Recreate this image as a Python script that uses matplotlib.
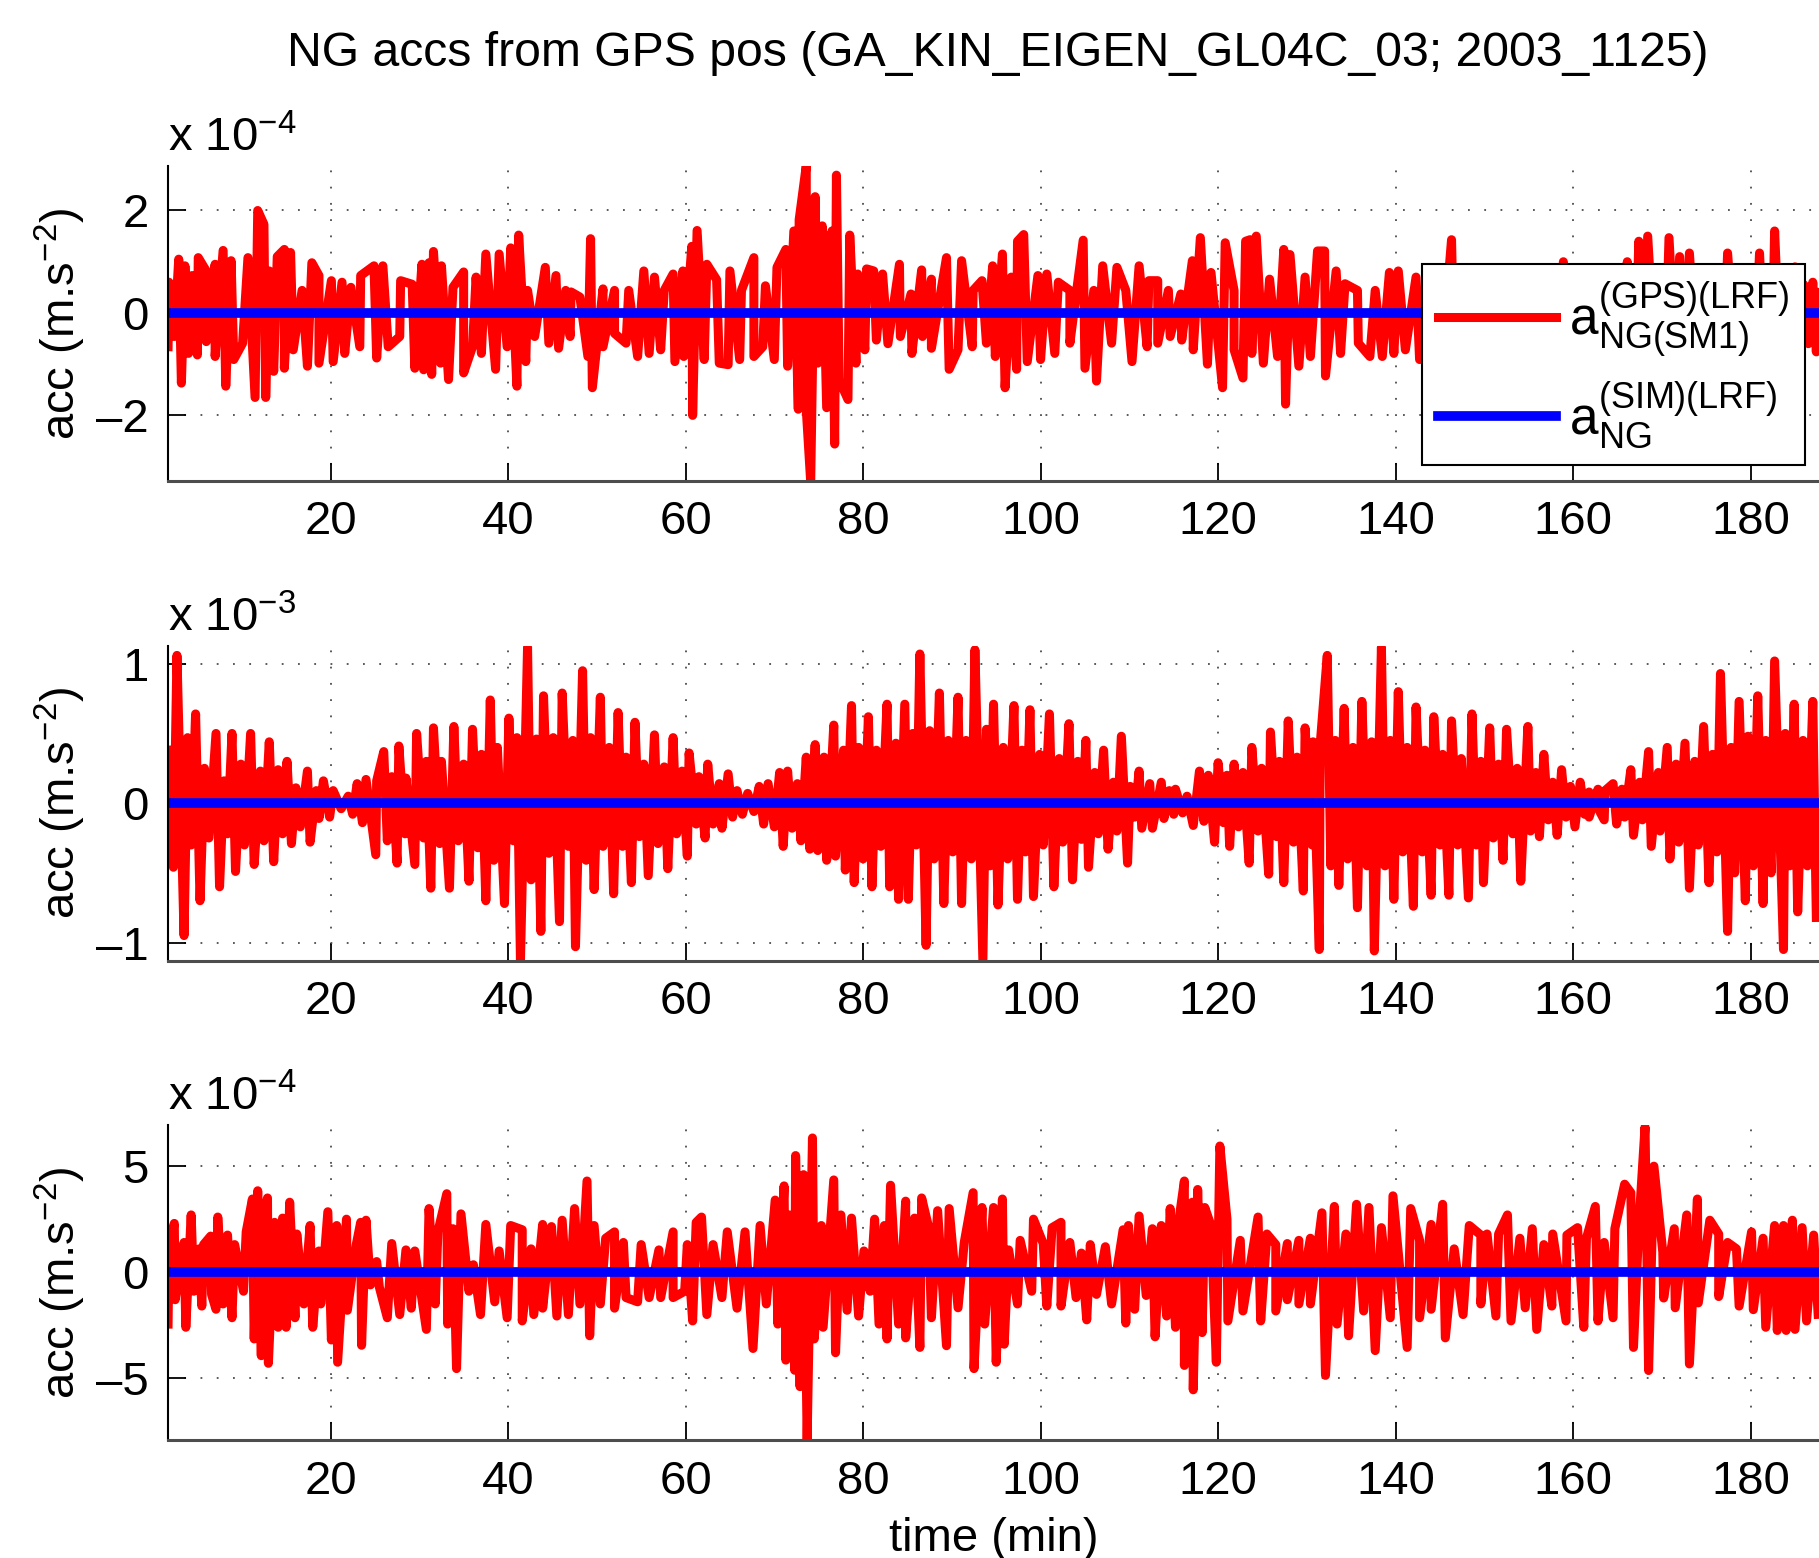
import numpy as np
import matplotlib.pyplot as plt

plt.rcParams["font.family"] = ["Liberation Sans", "DejaVu Sans"]
plt.rcParams["mathtext.fontset"] = "custom"
plt.rcParams["mathtext.rm"] = "Liberation Sans"
plt.rcParams["mathtext.it"] = "Liberation Sans:italic"
plt.rcParams["mathtext.bf"] = "Liberation Sans:bold"

TITLE = "NG accs from GPS pos (GA_KIN_EIGEN_GL04C_03; 2003_1125)"
XLIM = (1.7, 187.7)
XTICKS = [20, 40, 60, 80, 100, 120, 140, 160, 180]

# panel 1 (x 1e-4 m/s^2): upward peaks and downward peaks
p1_up_t = [1.8, 2.9, 3.6, 4.4, 5.1, 6.0, 7.0, 7.9, 8.8, 10.7, 11.8, 12.5, 13.1, 14.0, 14.8, 15.5, 16.8, 17.9, 18.7, 20.1,
           21.3, 22.3, 23.4, 24.9, 25.9, 27.9, 29.2, 30.3, 31.1, 31.6, 32.5, 33.8, 35.0, 36.4, 37.5, 39.0, 40.3, 41.2, 42.2,
           44.2, 45.4, 46.5, 47.1, 48.1, 49.3, 50.7, 52.0, 53.6, 55.3, 56.5, 57.6, 58.6, 59.7, 60.7, 61.3, 62.4, 63.5, 65.0,
           66.3, 67.7, 69.0, 70.3, 71.3, 72.2, 72.8, 73.6, 74.6, 75.4, 76.5, 77.0, 78.5, 79.4, 80.4, 81.2, 82.2,
           84.1, 85.4, 86.6, 87.7, 89.4, 91.1, 92.4, 93.4, 94.6, 95.7, 96.7, 97.4, 98.1, 99.7, 100.7, 102.0, 103.3, 104.8,
           106.0, 107.0, 108.6, 109.6, 111.1, 112.2, 113.2, 114.4, 115.8, 117.1, 118.0, 119.2, 120.8, 121.8, 123.1, 123.6,
           124.3, 125.8, 127.4, 128.1, 129.8, 131.2, 132.0, 133.3, 134.3, 135.7, 137.7, 139.3, 140.3, 142.3,
           143.5, 144.6, 146.3, 147.3, 148.5, 149.8, 151.0, 152.3, 153.6, 155.0, 156.3, 157.6, 158.9, 160.1, 161.3, 162.6,
           163.8, 165.0, 166.1, 167.4, 168.4, 169.6, 170.8, 172.0, 173.1, 174.3, 175.5, 176.4, 177.4, 178.6, 179.8, 181.0,
           182.0, 182.7, 183.8, 185.0, 186.0, 187.0, 187.7]
p1_up = [0.6, 1.05, 0.92, 0.73, 1.08, 0.82, 0.95, 1.22, 1.02, 1.08, 2.0, 1.73, 0.82, 1.1, 1.24, 1.18, 0.44, 0.98, 0.73, 0.63,
         0.6, 0.5, 0.73, 0.92, 0.92, 0.63, 0.56, 0.95, 0.98, 1.2, 0.92, 0.5, 0.8, 0.7, 1.15, 1.15, 1.27, 1.52, 0.44,
         0.89, 0.73, 0.44, 0.41, 0.31, 1.45, 0.47, 0.44, 0.44, 0.82, 0.7, 0.44, 0.76, 0.82, 1.3, 1.61, 0.95, 0.65, 0.82,
         0.44, 1.08, 0.53, 0.89, 1.24, 1.6, 1.82, 2.87, 2.27, 1.7, 1.6, 2.69, 1.52, 0.76, 0.86, 0.82, 0.76,
         0.95, 0.37, 0.84, 0.66, 1.08, 1.02, 0.44, 0.63, 0.92, 1.15, 0.7, 1.4, 1.53, 0.73, 0.76, 0.6, 0.44, 1.42,
         0.44, 0.92, 0.89, 0.44, 0.92, 0.63, 0.63, 0.44, 0.37, 1.02, 1.47, 0.79, 1.37, 0.44, 1.4, 1.43,
         1.5, 0.66, 1.24, 1.14, 0.7, 1.21, 1.21, 0.82, 0.57, 0.44, 0.44, 0.79, 0.82, 0.7,
         0.6, 0.8, 1.43, 0.6, 0.75, 0.5, 0.7, 0.55, 0.8, 0.6, 0.7, 0.5, 1.0, 0.6, 0.75, 0.55,
         0.8, 0.6, 1.0, 1.4, 1.5, 0.8, 1.47, 1.1, 1.17, 0.7, 0.85, 0.6, 1.17, 0.6, 0.8, 1.17,
         0.7, 1.6, 0.7, 0.9, 0.55, 0.6, 0.4]
p1_dn_t = [1.7, 2.4, 3.2, 4.0, 5.0, 6.0, 7.0, 8.2, 9.1, 10.1, 11.5, 12.7, 13.6, 14.8, 15.8, 17.4, 18.7, 20.3, 21.6, 23.3,
           25.2, 26.5, 27.8, 29.5, 30.5, 31.4, 32.4, 33.3, 35.0, 36.0, 37.0, 38.6, 39.9, 41.0, 42.0, 43.0, 44.6, 45.7,
           47.0, 49.0, 49.5, 50.7, 52.0, 53.3, 54.6, 55.9, 57.2, 58.8, 59.8, 60.8, 62.1, 63.8, 64.8, 66.1, 67.7, 68.7,
           70.0, 71.5, 72.7, 73.6, 74.1, 74.9, 75.9, 76.8, 77.3, 78.3, 79.2, 80.2, 81.5,
           82.8, 84.2, 85.5, 86.7, 87.7, 89.7, 90.7, 92.3, 93.9, 94.9, 96.0, 97.3, 98.5, 100.0, 101.6, 103.3, 105.0, 106.3,
           108.0, 110.3, 112.0, 113.2, 114.6, 115.9, 117.2, 118.8, 120.5, 121.8, 122.8, 123.8, 125.1, 126.7, 127.6, 129.1,
           130.4, 132.1, 133.8, 135.8, 137.1, 138.5, 139.8, 141.1, 142.7,
           144.0, 145.3, 146.6, 147.9, 149.2, 150.5, 151.8, 153.1, 154.4, 155.7, 157.0, 158.3, 159.6, 160.9, 162.2, 163.5,
           164.8, 166.0, 167.0, 168.0, 169.2, 170.4, 171.5, 172.6, 173.8, 175.0, 176.0, 177.0, 178.2, 179.4, 180.5, 181.5,
           182.4, 183.3, 184.4, 185.5, 186.5, 187.4]
p1_dn = [-0.66, -0.46, -1.37, -0.79, -0.82, -0.56, -0.85, -1.43, -0.91, -0.59, -1.65, -1.65, -1.14, -1.08, -0.72, -1.04,
         -0.98, -0.95, -0.79, -0.66, -0.88, -0.66, -0.46, -1.08, -1.11, -1.2, -0.98, -1.3, -1.17, -0.66, -0.79, -1.1,
         -0.66, -1.43, -0.95, -0.46, -0.59, -0.69, -0.46, -0.85, -1.46, -0.66, -0.4, -0.59, -0.85, -0.79, -0.72, -0.95,
         -0.85, -2.0, -0.91, -0.98, -1.01, -0.91, -0.85, -0.66, -0.91, -1.04, -1.88, -1.88, -3.3, -0.98, -1.85, -2.56,
         -1.3, -1.69, -0.98, -0.72, -0.53,
         -0.6, -0.46, -0.79, -0.46, -0.69, -1.1, -0.72, -0.66, -0.59, -0.85, -1.46, -1.1, -0.95, -0.91, -0.79, -0.59,
         -1.08, -1.33, -0.59, -0.95, -0.66, -0.59, -0.46, -0.53, -0.72, -1.0, -1.46, -0.72, -1.27, -0.79, -0.98, -0.85,
         -1.78, -1.04, -0.85, -1.23, -0.79, -0.59, -0.85, -0.85, -0.79, -0.72, -0.91,
         -0.8, -0.7, -1.0, -0.7, -0.9, -0.6, -0.8, -0.7, -0.9, -0.6, -0.8, -0.7, -1.0, -0.7, -0.8, -0.6,
         -0.9, -0.8, -1.1, -1.2, -0.9, -1.0, -0.8, -1.0, -0.7, -0.9, -0.6, -0.9, -0.7, -0.8, -0.9, -0.7,
         -1.0, -0.9, -0.7, -0.8, -0.6, -0.76]

# panel 2 (x 1e-3 m/s^2)
p2_up_t = [1.7, 2.7, 3.9, 4.8, 5.8, 7.1, 8.0, 8.9, 9.9, 11.0, 12.1, 13.1, 14.1, 15.1, 16.1, 17.4, 18.4, 19.2, 20.3, 22.0,
           23.0, 24.0, 25.2, 26.0, 26.9, 27.7, 28.5, 29.7, 30.8, 31.6, 32.5, 33.9, 35.0, 36.0, 37.0, 38.0, 38.8, 40.1,
           41.0, 42.2, 43.2, 44.0, 45.1, 46.1, 47.3, 48.4, 49.3, 50.4, 51.4, 52.4, 53.3, 54.3, 55.3, 56.5, 57.6, 58.6,
           59.6, 60.4, 61.5, 62.5, 63.8, 64.8, 65.8, 67.0, 68.3, 69.3, 70.6, 71.5, 72.6, 73.6, 74.6, 75.6, 76.7, 77.8,
           78.7, 79.5, 80.6, 81.5, 82.7, 83.7,
           84.7, 85.6, 86.4, 87.5, 88.6, 89.6, 90.7, 91.6, 92.6, 93.9, 94.7, 95.8, 97.0, 97.9, 98.8, 99.9, 101.0, 102.1,
           103.2, 104.2, 105.1, 106.1, 107.1, 108.2, 109.1, 110.1, 111.1, 112.3, 113.6, 114.5, 115.2, 116.5, 117.9,
           118.9, 120.0, 121.0, 121.8, 122.8, 123.8, 124.9, 125.9, 126.9, 127.9, 128.9, 129.8, 130.7, 131.5, 132.3,
           133.2, 134.2, 135.2, 136.2, 137.3, 138.4, 139.4, 140.3, 141.3, 142.3, 143.3, 144.3, 145.3, 146.3, 147.4,
           148.6, 149.6, 150.6, 151.6, 152.5, 153.7, 154.9, 155.8, 156.7, 157.7, 158.7, 159.7, 160.8, 161.8, 162.8,
           163.6, 164.5, 165.5, 166.5, 167.5, 168.5, 169.6, 170.6, 171.6, 172.6, 173.7, 174.7, 175.7, 176.6, 177.8,
           178.7, 179.7, 180.8, 181.7, 182.7, 183.9, 184.9, 185.9, 187.0]
p2_up = [0.38, 1.06, 0.47, 0.64, 0.25, 0.5, 0.16, 0.5, 0.28, 0.5, 0.23, 0.44, 0.24, 0.3, 0.11, 0.23, 0.09, 0.16, 0.09, 0.05,
         0.14, 0.17, 0.16, 0.37, 0.19, 0.41, 0.18, 0.5, 0.3, 0.54, 0.3, 0.55, 0.28, 0.53, 0.35, 0.74, 0.4, 0.61,
         0.47, 1.12, 0.46, 0.77, 0.47, 0.79, 0.45, 0.95, 0.47, 0.76, 0.4, 0.65, 0.33, 0.58, 0.28, 0.49, 0.26, 0.47,
         0.23, 0.36, 0.19, 0.28, 0.14, 0.21, 0.09, 0.07, 0.12, 0.14, 0.22, 0.23, 0.14, 0.33, 0.42, 0.33, 0.56, 0.38,
         0.7, 0.4, 0.62, 0.38, 0.71, 0.43,
         0.71, 0.5, 1.07, 0.52, 0.79, 0.45, 0.76, 0.45, 1.1, 0.53, 0.71, 0.4, 0.7, 0.38, 0.67, 0.35, 0.64, 0.32,
         0.57, 0.3, 0.45, 0.22, 0.38, 0.15, 0.48, 0.12, 0.23, 0.14, 0.15, 0.09, 0.1, 0.05, 0.23,
         0.2, 0.29, 0.2, 0.28, 0.22, 0.4, 0.25, 0.51, 0.3, 0.59, 0.33, 0.54, 0.44, 0.42, 1.06,
         0.45, 0.68, 0.4, 0.73, 0.44, 1.12, 0.45, 0.8, 0.4, 0.69, 0.38, 0.62, 0.35, 0.59, 0.32,
         0.64, 0.3, 0.54, 0.28, 0.53, 0.25, 0.55, 0.22, 0.35, 0.15, 0.24, 0.12, 0.15, 0.08, 0.1,
         0.09, 0.14, 0.1, 0.24, 0.15, 0.37, 0.22, 0.4, 0.28, 0.43, 0.3, 0.55, 0.35, 0.93, 0.4,
         0.73, 0.48, 0.77, 0.45, 1.02, 0.5, 0.71, 0.45, 0.73]
p2_dn_t = [2.3, 3.5, 4.3, 5.3, 6.3, 7.5, 8.4, 9.3, 10.3, 11.4, 12.5, 13.6, 14.6, 15.6, 16.6, 17.7, 18.7, 19.9, 21.2, 22.5,
           23.6, 25.1, 26.4, 27.5, 28.4, 29.5, 30.5, 31.3, 32.3, 33.4, 34.4, 35.6, 36.6, 37.5, 38.4, 39.6, 40.6, 41.4,
           42.6, 43.7, 44.6, 45.8, 46.8, 47.6, 48.8, 49.7, 50.7, 51.9, 52.9, 53.9, 54.8, 55.8, 56.9, 58.0, 59.0, 60.2,
           61.2, 62.2, 63.1, 64.1, 65.3, 66.4, 67.7, 68.8, 70.0, 71.0, 72.0, 73.0, 74.0, 74.9, 75.9, 76.9, 78.0, 79.0,
           80.0, 81.0, 82.0, 83.0, 84.0,
           85.1, 86.0, 87.1, 88.0, 89.1, 90.1, 91.1, 92.2, 93.5, 94.3, 95.2, 96.3, 97.4, 98.3, 99.2, 100.3, 101.5, 102.5,
           103.6, 104.6, 105.4, 106.5, 107.6, 108.6, 109.8, 110.6, 111.4, 112.6, 113.9, 115.0, 116.0, 117.2, 118.4,
           119.6, 120.6, 121.3, 122.3, 123.5, 124.5, 125.7, 126.6, 127.4, 128.5, 129.6, 130.6, 131.4, 132.7, 133.6,
           134.6, 135.7, 136.8, 137.6, 138.8, 139.8, 140.8, 142.0, 143.0, 144.0, 145.0, 146.0, 147.0, 148.2, 149.1,
           149.9, 151.0, 152.1, 153.2, 154.1, 155.2, 156.2, 157.2, 158.2, 159.2, 160.2, 161.3, 161.8, 163.0, 163.5,
           164.9, 165.8, 166.8, 167.8, 168.8, 169.8, 170.9, 171.9, 173.1, 174.1, 175.3, 176.2, 177.4, 178.2, 179.4,
           180.3, 181.4, 182.3, 183.7, 184.4, 185.3, 186.4, 187.4]
p2_dn = [-0.46, -0.95, -0.3, -0.7, -0.25, -0.6, -0.22, -0.49, -0.3, -0.44, -0.27, -0.42, -0.22, -0.29, -0.17, -0.28,
         -0.11, -0.1, -0.04, -0.08, -0.14, -0.37, -0.27, -0.43, -0.22, -0.44, -0.25, -0.61, -0.29, -0.61, -0.27, -0.56,
         -0.32, -0.7, -0.41, -0.72, -0.27, -1.13, -0.55, -0.92, -0.36, -0.85, -0.31, -1.03, -0.41, -0.62, -0.31, -0.65,
         -0.31, -0.57, -0.24, -0.52, -0.29, -0.47, -0.22, -0.38, -0.15, -0.25, -0.15, -0.18, -0.1, -0.08, -0.06, -0.15,
         -0.17, -0.31, -0.18, -0.27, -0.33, -0.34, -0.41, -0.38, -0.48, -0.57, -0.4, -0.6, -0.31, -0.6, -0.69,
         -0.69, -0.3, -1.02, -0.4, -0.72, -0.35, -0.72, -0.4, -1.13, -0.45, -0.73, -0.4, -0.69, -0.35, -0.67, -0.3,
         -0.6, -0.28, -0.55, -0.26, -0.46, -0.22, -0.33, -0.2, -0.43, -0.1, -0.18, -0.18, -0.11, -0.08, -0.07, -0.16,
         -0.13, -0.28, -0.14, -0.31, -0.17, -0.43, -0.2, -0.51, -0.24, -0.57, -0.28, -0.63, -0.3, -1.05, -0.45, -0.59,
         -0.4, -0.75, -0.45, -1.06, -0.45, -0.69, -0.35, -0.74, -0.35, -0.66, -0.3, -0.66, -0.3, -0.68, -0.3,
         -0.57, -0.25, -0.41, -0.22, -0.56, -0.2, -0.24, -0.12, -0.23, -0.1, -0.17, -0.08, -0.1, -0.06, -0.12,
         -0.15, -0.1, -0.23, -0.12, -0.31, -0.2, -0.4, -0.28, -0.61, -0.3, -0.57, -0.35, -0.92, -0.5, -0.7,
         -0.45, -0.72, -0.5, -1.05, -0.45, -0.78, -0.45, -0.82]

# panel 3 (x 1e-4 m/s^2)
p3_up_t = [1.8, 2.4, 3.3, 3.5, 4.3, 5.2, 5.7, 6.5, 7.3, 8.4, 9.2, 10.5, 11.2, 11.8, 12.4, 12.9, 13.7, 14.6, 15.4, 16.2,
           17.7, 18.7, 19.7, 20.7, 21.8, 22.9, 23.4, 24.0, 25.2, 26.9, 28.5, 29.5, 31.1, 32.1, 33.1, 33.8, 34.7, 36.1,
           37.5, 39.0, 40.3, 41.6, 42.6, 43.9, 44.9, 46.1, 47.5, 48.9, 49.7, 51.0, 52.0, 53.0, 55.0, 57.0, 58.6, 60.2,
           61.2, 61.8, 63.1, 64.7, 66.7, 68.4, 70.1, 71.1, 71.7, 72.4, 73.3, 74.3, 75.3, 76.7, 77.5, 78.7, 80.1, 81.3,
           82.4, 83.1,
           84.8, 85.8, 86.6, 87.4, 88.4, 89.7, 91.4, 92.4, 93.4, 94.7, 95.7, 96.4, 97.7, 99.2, 100.3, 101.3, 102.3, 103.3,
           104.6, 105.6, 107.3, 109.3, 109.9, 111.1, 112.6, 113.6, 114.6, 115.5, 116.2, 117.1, 117.7, 118.5, 119.2,
           120.2, 121.0, 122.5, 124.5, 125.5, 126.5, 127.8, 129.1, 130.4, 131.7, 133.1, 134.4, 135.6, 137.0, 138.4,
           139.7, 141.7, 142.7, 144.0, 145.3, 146.6, 148.3, 149.6, 150.3, 151.6, 152.6, 154.0, 155.4, 156.7, 157.7,
           159.3, 160.5, 161.5, 162.5, 163.5, 164.7, 165.8, 166.5, 167.4, 168.1, 169.1, 170.1, 171.4, 172.8, 174.0,
           175.4, 176.4, 177.4, 178.4, 180.1, 181.4, 182.7, 183.7, 184.7, 185.8, 187.1]
p3_up = [1.1, 2.3, 0.95, 1.4, 2.7, 1.1, 1.3, 1.7, 2.6, 1.75, 1.3, 1.9, 3.45, 3.84, 2.7, 3.5, 2.35, 2.55, 3.3, 1.8,
         2.2, 1.0, 2.85, 2.2, 2.5, 1.3, 2.35, 2.45, 0.5, 1.35, 1.05, 1.0, 3.0, 1.9, 3.7, 2.05, 2.75, 0.35,
         2.25, 1.0, 2.2, 2.0, 1.1, 2.25, 2.15, 2.45, 3.0, 4.3, 2.2, 1.6, 1.9, 1.4, 1.3, 1.05, 1.9, 1.3,
         2.35, 2.6, 1.3, 1.9, 1.9, 2.2, 3.4, 4.07, 2.7, 5.5, 4.6, 6.33, 2.2, 4.35, 2.7, 2.55, 1.0, 2.5,
         2.2, 4.1,
         3.35, 2.55, 3.5, 2.1, 2.9, 3.0, 1.4, 3.75, 3.05, 3.05, 3.45, 1.05, 1.5, 2.5, 1.35, 2.1, 2.35, 1.4,
         0.9, 1.3, 1.2, 2.0, 2.2, 2.65, 2.05, 2.2, 3.0, 2.2, 4.3, 3.3, 3.9, 3.05, 2.2,
         5.95, 2.5, 1.5, 2.6, 1.8, 1.3, 1.35, 1.5, 1.6, 2.8, 3.1, 1.8, 3.2, 3.05, 2.1,
         3.6, 3.0, 1.5, 2.25, 3.2, 1.1, 2.2, 1.75, 1.8, 1.8, 2.7, 1.6, 2.05, 1.3, 1.8,
         1.75, 2.1, 1.6, 3.1, 1.4, 2.05, 4.15, 3.75, 2.2, 6.85, 5.0, 0.95, 2.05, 2.7, 3.45,
         2.45, 1.8, 1.4, 1.1, 1.9, 1.6, 2.2, 2.2, 2.45, 2.1, 1.75]
p3_dn_t = [1.7, 2.5, 3.7, 4.6, 5.5, 6.6, 7.1, 7.9, 8.9, 10.2, 11.4, 12.2, 13.0, 14.1, 15.0, 16.0, 17.0, 18.0, 18.9, 20.1,
           20.8, 21.9, 23.5, 24.5, 25.5, 26.4, 27.8, 29.1, 30.8, 31.8, 33.2, 34.2, 35.6, 36.9, 38.5, 39.9, 41.6, 42.9,
           43.9, 45.5, 46.8, 48.1, 49.2, 50.4, 52.0, 53.3, 54.6, 55.9, 57.2, 58.6, 59.9, 60.8, 62.4, 64.1, 65.8, 67.6,
           69.1, 70.4, 71.3, 72.3, 72.9, 73.7, 74.5, 75.5, 76.9, 78.2, 79.5, 80.8, 81.8, 82.7, 84.0,
           84.8, 86.4, 87.7, 89.4, 90.7, 92.5, 93.7, 95.0, 95.9, 97.4, 99.0, 100.7, 102.3, 104.0, 105.2, 106.3, 108.0,
           109.6, 110.6, 111.9, 112.9, 114.2, 115.2, 116.2, 117.2, 118.2, 119.8, 121.1, 122.8, 124.8, 126.5, 127.8,
           129.1, 130.4, 132.1, 133.4, 134.7, 136.4, 137.7, 139.4, 141.3, 142.7, 144.0, 145.6, 147.6, 149.6, 151.3,
           153.0, 154.6, 155.9, 157.6, 159.2, 161.2, 162.8, 164.5, 166.8, 168.5, 170.2, 171.5, 173.1, 174.1, 176.4,
           178.7, 180.3, 181.7, 183.0, 184.0, 185.0, 186.3, 187.6]
p3_dn = [-2.45, -1.3, -2.6, -0.9, -1.6, -1.05, -1.75, -1.5, -2.15, -0.9, -3.15, -3.94, -4.3, -2.6, -2.6, -2.15, -1.5,
         -2.6, -1.5, -3.2, -4.25, -1.8, -3.45, -0.6, -0.7, -2.15, -2.0, -1.7, -2.7, -1.5, -2.45, -4.55, -0.9, -2.0,
         -1.4, -2.15, -2.3, -2.0, -1.7, -2.07, -2.0, -1.5, -3.0, -1.5, -1.7, -1.2, -1.4, -1.2, -1.2, -1.2, -0.9,
         -2.3, -2.0, -1.2, -1.7, -3.6, -1.5, -2.45, -4.15, -4.63, -5.4, -7.9, -3.15, -2.6, -3.8, -1.8, -2.07, -0.9,
         -2.45, -3.15, -2.45,
         -3.1, -3.55, -2.15, -3.47, -1.68, -4.55, -2.45, -4.25, -3.4, -1.5, -0.9, -1.6, -1.6, -1.2, -2.25, -1.05,
         -1.5, -2.4, -1.75, -1.1, -3.05, -2.07, -2.6, -4.4, -5.55, -2.85, -4.25, -2.3, -1.83, -2.3, -1.83, -1.3,
         -1.5, -1.5, -4.87, -2.45, -3.0, -1.83, -3.7, -2.15, -3.55, -2.15, -1.75, -3.1, -2.0, -1.5, -2.07,
         -2.3, -1.68, -2.7, -1.6, -2.3, -2.6, -2.3, -2.15, -3.55, -4.64, -1.22, -1.68, -4.33, -1.45, -1.15,
         -1.6, -1.77, -2.6, -2.75, -2.75, -2.7, -2.3, -1.99]

# simulated NG acceleration (flat at this scale)
sim_t = [1.7, 187.7]
sim_vals = [0.0, 0.0]

YLIMS = [(-3.28, 2.87), (-1.13, 1.13), (-7.92, 6.94)]
YTICKS = [[-2, 0, 2], [-1, 0, 1], [-5, 0, 5]]
EXPONENTS = ["4", "3", "4"]
PANELS = [(p1_up_t, p1_up, p1_dn_t, p1_dn),
          (p2_up_t, p2_up, p2_dn_t, p2_dn),
          (p3_up_t, p3_up, p3_dn_t, p3_dn)]

LABEL_GPS = r"$\mathrm{a}^{\mathrm{(GPS)(LRF)}}_{\mathrm{NG(SM1)}}$"
LABEL_SIM = r"$\mathrm{a}^{\mathrm{(SIM)(LRF)}}_{\mathrm{NG}}$"

FS = 34


def merge(up_t, up_v, dn_t, dn_v):
    t = np.array(up_t + dn_t)
    v = np.array(up_v + dn_v)
    order = np.argsort(t, kind="stable")
    return t[order], v[order]


fig = plt.figure(figsize=(18.19, 15.58), dpi=100)
bottoms = [0.6913, 0.3834, 0.0757]
height = 0.2022
left = 0.0924

axes = []
for i, (ut, uv, dt, dv) in enumerate(PANELS):
    ax = fig.add_axes([left, bottoms[i], 1.0 - left, height])
    t, v = merge(ut, uv, dt, dv)
    ax.plot(t, v, color="red", lw=6.5, solid_joinstyle="round", label=LABEL_GPS)
    ax.plot(sim_t, sim_vals, color="blue", lw=7, label=LABEL_SIM)

    ax.set_xlim(*XLIM)
    ax.set_ylim(*YLIMS[i])
    ax.set_xticks(XTICKS)
    ax.set_yticks(YTICKS[i])
    ax.set_yticklabels(["\u2013" + str(abs(y)) if y < 0 else str(y) for y in YTICKS[i]])
    ax.tick_params(direction="in", length=13, width=1.3, labelsize=FS, pad=14)
    ax.grid(True, color="0.3", ls=(0, (1, 8)), lw=1.3)
    for side in ["top", "right"]:
        ax.spines[side].set_visible(False)
    ax.spines["left"].set_linewidth(1.5)
    ax.spines["bottom"].set_linewidth(2.2)
    ax.spines["bottom"].set_color("0.3")
    ax.set_ylabel("acc (m.s$^{\u2212 2}$)", fontsize=FS, labelpad=6)
    ax.text(0.0, 1.015, "x 10$^{\u2212" + EXPONENTS[i] + "}$", transform=ax.transAxes,
            fontsize=FS, ha="left", va="bottom")
    axes.append(ax)

axes[-1].set_xlabel("time (min)", fontsize=FS, labelpad=10)

leg = axes[0].legend(loc="upper right", bbox_to_anchor=(0.9923, 0.8306), bbox_transform=fig.transFigure,
                     borderaxespad=0, fontsize=37, fancybox=False, framealpha=1, edgecolor="black",
                     handlelength=2.3, handletextpad=0.25, labelspacing=0.38, borderpad=0.3)
leg.get_frame().set_linewidth(1.5)

fig.text(0.5485, 0.951, TITLE, fontsize=34.7, ha="center", va="bottom")

fig.savefig("out.png", dpi=100)
